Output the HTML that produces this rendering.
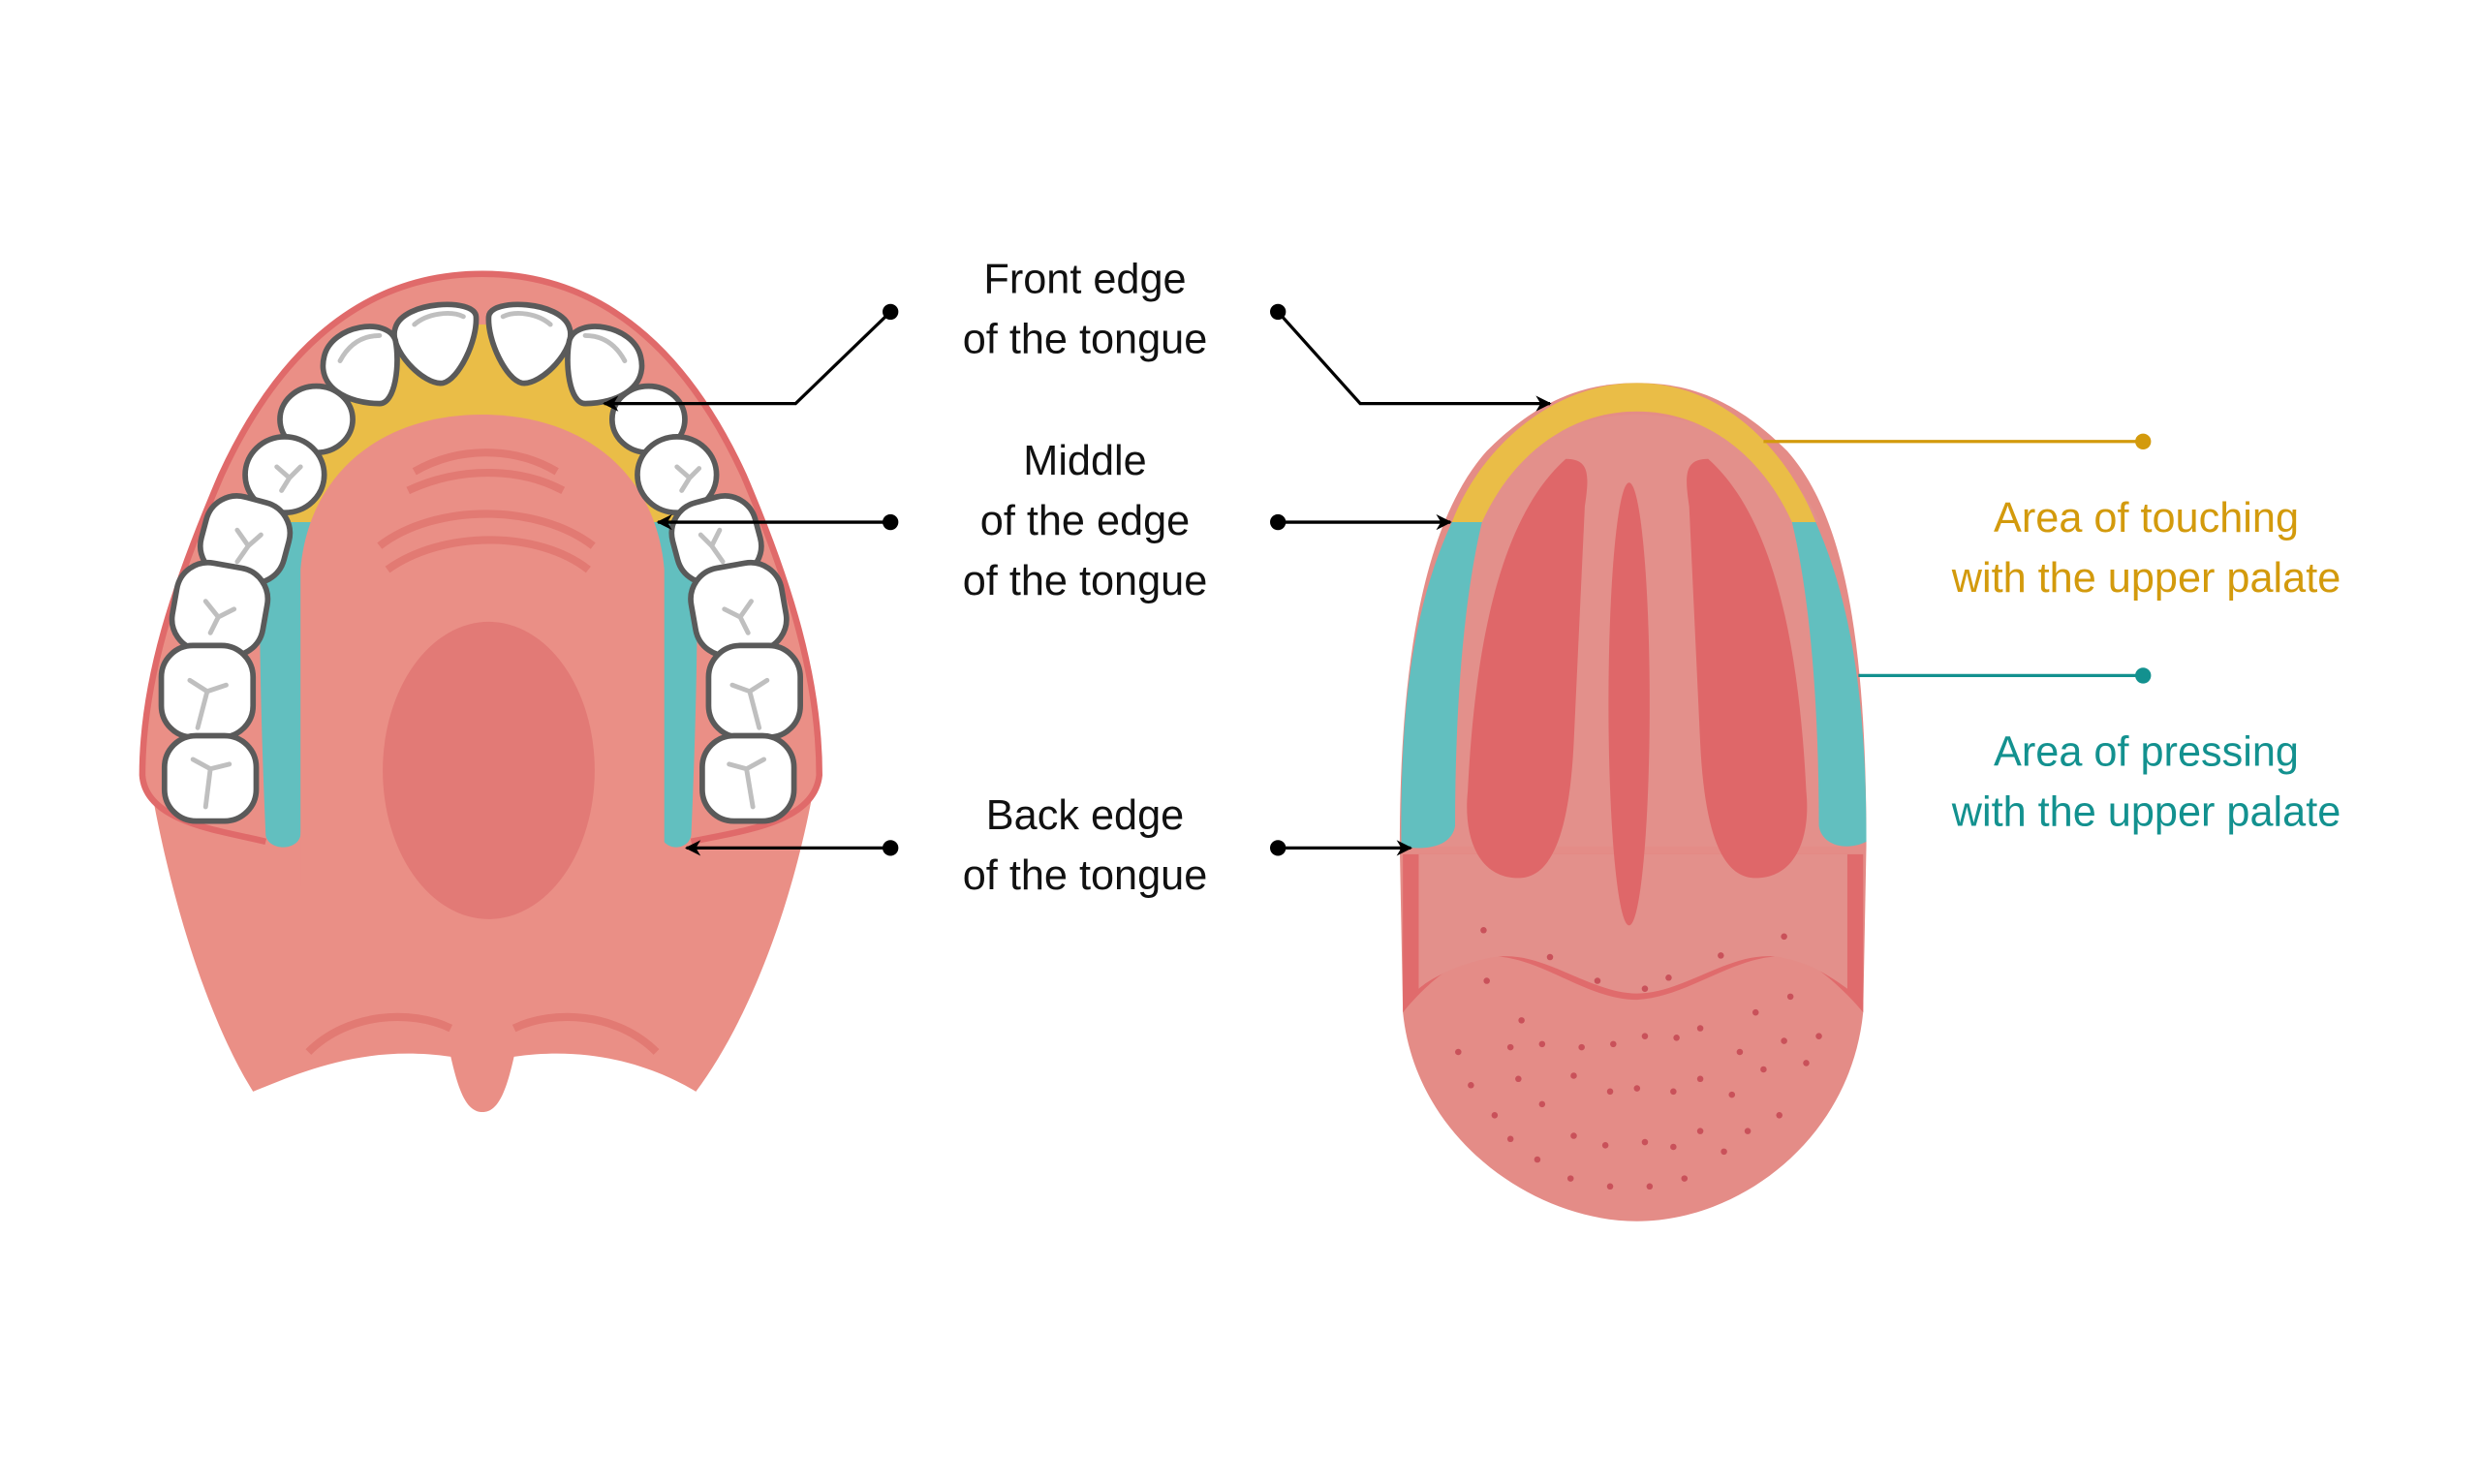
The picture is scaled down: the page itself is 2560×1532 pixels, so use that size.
<!DOCTYPE html>
<html><head><meta charset="utf-8"><style>
html,body{margin:0;padding:0;background:#fff;}
svg{display:block;}
text{font-family:"Liberation Sans",sans-serif;font-size:26.5px;}
</style></head><body>
<svg width="2560" height="1532" viewBox="0 0 1568 938" xmlns="http://www.w3.org/2000/svg">
<defs>
<marker id="ar" markerWidth="10" markerHeight="10" refX="9" refY="5" orient="auto" markerUnits="userSpaceOnUse"><path d="M0,0 L10,5 L0,10 L3,5 Z" fill="#000"/></marker>
</defs>
<rect width="1568" height="938" fill="#fff"/>

<!-- LEFT: tongue bottom part -->
<path d="M95,495 C110,580 135,650 160,690 C190,678 230,660 285,668 C290,690 295,703 305,703 C315,703 320,690 325,668 C380,660 420,678 440,690 C470,650 500,580 515,495 Z" fill="#ea8f86"/>
<path d="M195,665 C220,640 260,638 285,650" stroke="#e27a73" stroke-width="5" fill="none"/>
<path d="M415,665 C390,640 350,638 325,650" stroke="#e27a73" stroke-width="5" fill="none"/>
<!-- outer gum -->
<path d="M305,173 C390,173 440,235 470,300 C500,370 518,430 518,490 C515,520 470,525 440,535 L170,535 C140,525 92,520 90,490 C90,430 110,370 140,300 C170,235 220,173 305,173 Z" fill="#ea8f86"/>
<path d="M168,532 C140,525 92,520 90,490 C90,430 110,370 140,300 C170,235 220,173 305,173 C390,173 440,235 470,300 C500,370 518,430 518,490 C515,520 470,525 437,532" fill="none" stroke="#e06a6a" stroke-width="4"/>
<!-- yellow band -->
<path d="M305,205 C360,205 395,245 420,290 L440,330 L165,330 L190,290 C215,245 250,205 305,205 Z" fill="#eabd47"/>
<!-- teal strips -->
<path d="M165,330 L205,330 L190,528 C188,538 170,538 168,528 C165,460 163,380 165,330 Z" fill="#62bfbf"/>
<path d="M405,330 L440,330 C442,380 440,460 437,528 C435,538 420,538 418,528 Z" fill="#62bfbf"/>
<!-- palate -->
<path d="M190,560 L190,360 C195,300 240,262 305,262 C370,262 415,300 420,360 L420,560 Z" fill="#ea8f86"/>
<path d="M262,298 C290,282 325,282 352,298 M258,310 C290,295 328,295 356,310 M240,345 C275,318 340,318 375,345 M245,360 C280,335 340,335 372,360" stroke="#e27a73" stroke-width="5" fill="none"/>
<ellipse cx="309" cy="487" rx="67" ry="94" fill="#e27a76"/>
<!-- teeth -->
<g fill="#fff" stroke="#5a5a5a" stroke-width="3.5">
<path d="M250,207 C255,190 300,188 301,200 C302,215 290,240 280,242 C268,244 245,220 250,207 Z"/>
<path d="M360,207 C355,190 310,188 309,200 C308,215 320,240 330,242 C342,244 365,220 360,207 Z"/>
<path d="M205,225 C210,205 245,200 250,215 C253,230 250,255 240,255 C220,255 200,245 205,225 Z"/>
<path d="M405,225 C400,205 365,200 360,215 C357,230 360,255 370,255 C390,255 410,245 405,225 Z"/>
<ellipse cx="200" cy="265" rx="23" ry="21"/>
<ellipse cx="410" cy="265" rx="23" ry="21"/>
<ellipse cx="180" cy="300" rx="25" ry="24"/>
<ellipse cx="428" cy="300" rx="25" ry="24"/>
<rect x="128" y="315" width="54" height="52" rx="20" transform="rotate(15 155 341)"/>
<rect x="426" y="315" width="54" height="52" rx="20" transform="rotate(-15 453 341)"/>
<rect x="110" y="357" width="58" height="56" rx="20" transform="rotate(10 139 385)"/>
<rect x="438" y="357" width="58" height="56" rx="20" transform="rotate(-10 467 385)"/>
<rect x="102" y="408" width="58" height="58" rx="20"/>
<rect x="448" y="408" width="58" height="58" rx="20"/>
<rect x="104" y="465" width="58" height="54" rx="20"/>
<rect x="444" y="465" width="58" height="54" rx="20"/>
</g>
<g stroke="#bfbfbf" stroke-width="3" fill="none" stroke-linecap="round">
<path d="M262,205 C270,198 285,196 293,200 M318,200 C326,196 340,198 348,205 M215,228 C222,215 232,212 240,212 M395,228 C388,215 378,212 370,212"/>
<path d="M175,295 L183,302 L178,310 M183,302 L190,295 M428,295 L436,302 L431,310 M436,302 L442,296"/>
<path d="M150,335 L157,345 L150,355 M157,345 L165,338 M455,335 L450,345 L457,355 M450,345 L443,338"/>
<path d="M130,380 L138,390 L133,400 M138,390 L148,385 M475,380 L468,390 L473,400 M468,390 L458,385"/>
<path d="M120,430 L131,437 L125,460 M131,437 L143,433 M485,430 L474,437 L480,460 M474,437 L463,433"/>
<path d="M122,480 L133,486 L130,510 M133,486 L145,483 M483,480 L472,486 L476,510 M472,486 L461,483"/>
</g>

<!-- RIGHT tongue -->
<path d="M885,535 C885,420 900,330 940,285 C975,250 1005,242 1035,242 C1065,242 1095,250 1130,285 C1170,330 1180,420 1180,535 L1178,640 C1170,720 1100,772 1035,772 C970,772 895,720 887,640 Z" fill="#e48c87"/>
<path d="M887,640 L887,540 L1178,540 L1178,640 C1170,630 1150,610 1135,605 C1100,600 1070,630 1035,632 C1000,632 970,600 935,605 C915,608 895,630 887,640 Z" fill="#e06b6c"/>
<path d="M897,625 L897,540 L1168,540 L1168,625 C1150,612 1140,608 1125,605 C1095,600 1065,628 1035,628 C1005,628 975,600 945,605 C925,608 905,618 897,625 Z" fill="#e3908b"/>
<path d="M918,330 C930,300 980,262 1035,262 C1090,262 1140,300 1150,330 L1148,330 C1160,380 1165,430 1168,535 L897,535 C900,430 905,380 918,330 Z" fill="#e3908b"/>
<path d="M918,330 C935,285 980,242 1035,242 C1090,242 1130,285 1148,330 L1133,330 C1115,290 1080,260 1035,260 C990,260 955,290 937,330 Z" fill="#eabd47"/>
<path d="M918,330 L937,330 C925,380 920,450 920,522 C918,535 902,538 886,535 C885,440 895,380 918,330 Z" fill="#62bfbf"/>
<path d="M1148,330 L1133,330 C1145,380 1150,450 1150,522 C1152,535 1168,538 1180,532 C1180,440 1170,380 1148,330 Z" fill="#62bfbf"/>
<path d="M990,290 C1005,290 1005,300 1002,320 L995,470 C992,530 980,555 960,555 C935,555 925,530 928,500 C932,420 945,330 990,290 Z" fill="#df6769"/>
<path d="M1080,290 C1065,290 1065,300 1068,320 L1075,470 C1078,530 1090,555 1110,555 C1135,555 1145,530 1142,500 C1138,420 1125,330 1080,290 Z" fill="#df6769"/>
<ellipse cx="1030" cy="445" rx="13" ry="140" fill="#df6769"/>
<g fill="#c9515a">
<circle cx="940" cy="620" r="2"/><circle cx="962" cy="645" r="2"/><circle cx="1000" cy="662" r="2"/><circle cx="1040" cy="655" r="2"/><circle cx="1075" cy="650" r="2"/><circle cx="1110" cy="640" r="2"/><circle cx="1132" cy="630" r="2"/>
<circle cx="922" cy="665" r="2"/><circle cx="955" cy="662" r="2"/><circle cx="975" cy="660" r="2"/><circle cx="1020" cy="660" r="2"/><circle cx="1060" cy="656" r="2"/><circle cx="1100" cy="665" r="2"/><circle cx="1128" cy="658" r="2"/><circle cx="1150" cy="655" r="2"/>
<circle cx="930" cy="686" r="2"/><circle cx="960" cy="682" r="2"/><circle cx="995" cy="680" r="2"/><circle cx="1035" cy="688" r="2"/><circle cx="1075" cy="682" r="2"/><circle cx="1115" cy="676" r="2"/><circle cx="1142" cy="672" r="2"/>
<circle cx="945" cy="705" r="2"/><circle cx="975" cy="698" r="2"/><circle cx="1018" cy="690" r="2"/><circle cx="1058" cy="690" r="2"/><circle cx="1095" cy="692" r="2"/><circle cx="1125" cy="705" r="2"/>
<circle cx="955" cy="720" r="2"/><circle cx="995" cy="718" r="2"/><circle cx="1040" cy="722" r="2"/><circle cx="1075" cy="715" r="2"/><circle cx="1105" cy="715" r="2"/>
<circle cx="972" cy="733" r="2"/><circle cx="1015" cy="724" r="2"/><circle cx="1058" cy="725" r="2"/><circle cx="1090" cy="728" r="2"/>
<circle cx="993" cy="745" r="2"/><circle cx="1018" cy="750" r="2"/><circle cx="1043" cy="750" r="2"/><circle cx="1065" cy="745" r="2"/>
<circle cx="980" cy="605" r="2"/><circle cx="1010" cy="620" r="2"/><circle cx="1055" cy="618" r="2"/><circle cx="1088" cy="604" r="2"/><circle cx="1128" cy="592" r="2"/><circle cx="1040" cy="625" r="2"/><circle cx="938" cy="588" r="2"/>
</g>

<g stroke="#000" stroke-width="2" fill="none">
<polyline points="563,197 503,255 382,255" marker-end="url(#ar)"/>
<polyline points="808,197 860,255 980,255" marker-end="url(#ar)"/>
<line x1="563" y1="330" x2="416" y2="330" marker-end="url(#ar)"/>
<line x1="808" y1="330" x2="917" y2="330" marker-end="url(#ar)"/>
<line x1="563" y1="536" x2="434" y2="536" marker-end="url(#ar)"/>
<line x1="808" y1="536" x2="892" y2="536" marker-end="url(#ar)"/>
</g>
<g fill="#000"><circle cx="563" cy="197" r="5"/><circle cx="808" cy="197" r="5"/><circle cx="563" cy="330" r="5"/><circle cx="808" cy="330" r="5"/><circle cx="563" cy="536" r="5"/><circle cx="808" cy="536" r="5"/></g>
<line x1="1115" y1="279" x2="1355" y2="279" stroke="#d39a0c" stroke-width="2"/><circle cx="1355" cy="279" r="5" fill="#d39a0c"/>
<line x1="1175" y1="427" x2="1355" y2="427" stroke="#13918f" stroke-width="2"/><circle cx="1355" cy="427" r="5" fill="#13918f"/>

<g text-anchor="middle" fill="#111">
<text x="686" y="185">Front edge</text><text x="686" y="223">of the tongue</text>
<text x="686" y="300">Middle</text><text x="686" y="338">of the edge</text><text x="686" y="376">of the tongue</text>
<text x="686" y="524">Back edge</text><text x="686" y="562">of the tongue</text>
</g>
<g text-anchor="middle">
<text x="1357" y="336" fill="#d39a0c">Area of touching</text><text x="1357" y="374" fill="#d39a0c">with the upper palate</text>
<text x="1357" y="484" fill="#13918f">Area of pressing</text><text x="1357" y="522" fill="#13918f">with the upper palate</text>
</g>
</svg>
</body></html>
